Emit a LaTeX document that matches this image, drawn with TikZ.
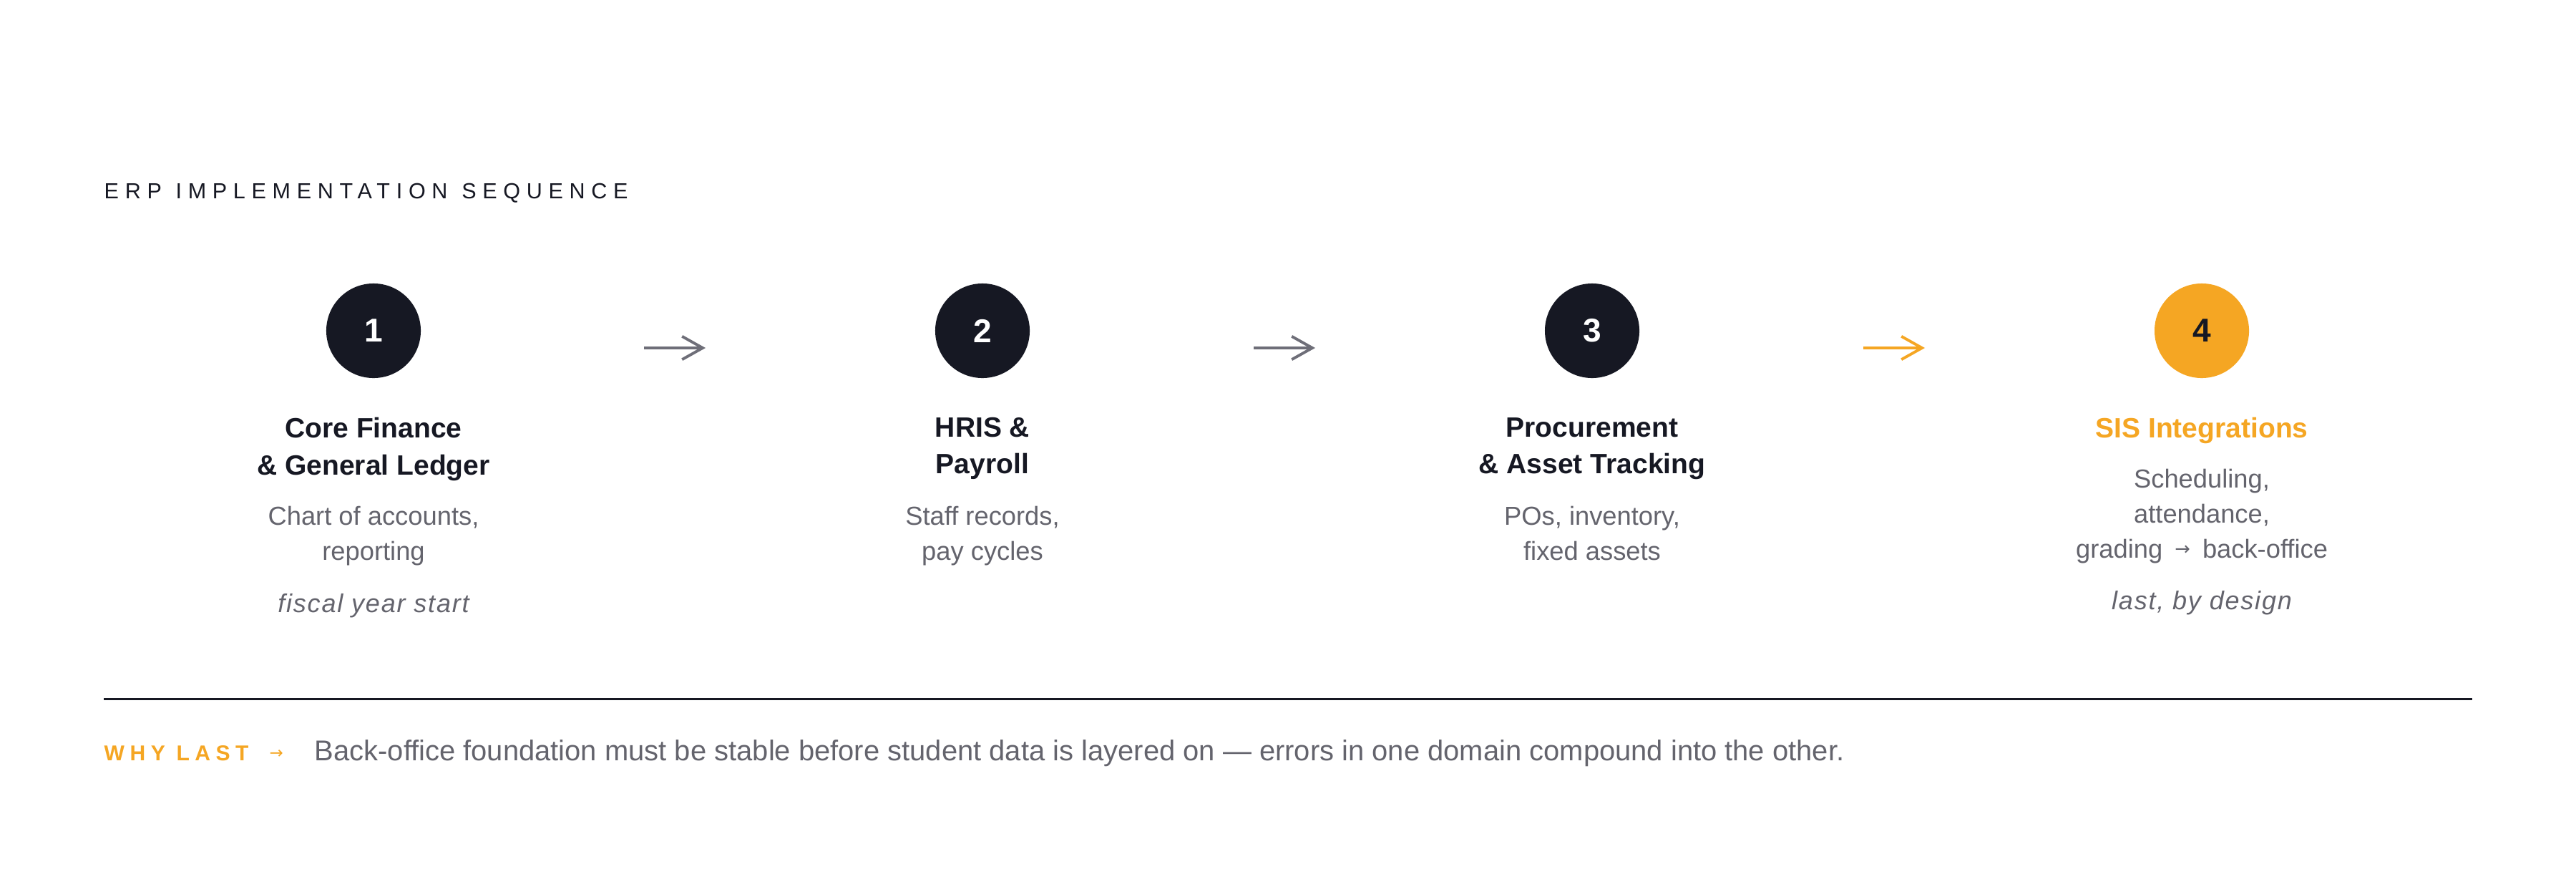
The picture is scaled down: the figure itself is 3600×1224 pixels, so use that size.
\documentclass[tikz,border=0pt]{standalone}
\usepackage{fontspec}
\setmainfont{Liberation Sans}
\newfontfamily\trackedfont[LetterSpace=28.5, WordSpace=1.15]{Liberation Sans}
\newfontfamily\labelfont[LetterSpace=25]{Liberation Sans}
\newfontfamily\notefont[LetterSpace=5]{Liberation Sans}
\newfontfamily\arrowfont{DejaVu Sans}
\usetikzlibrary{arrows.meta}
\definecolor{ink}{HTML}{161823}
\definecolor{accent}{HTML}{F5A623}
\definecolor{muted}{HTML}{64646D}
\definecolor{arrowgrey}{HTML}{6E6E78}
\newcommand{\smallarrow}{\hspace{2pt}{\arrowfont\fontsize{7.3}{9}\selectfont\raisebox{0.9pt}{→}}\hspace{2pt}}
\tikzset{>={Straight Barb[length=8.2pt,width=9.2pt]},
  stepnum/.style={circle, fill=ink, text=white, minimum size=1.32cm, inner sep=0pt,
    font=\fontsize{13.1}{15}\selectfont\bfseries},
  steptitle/.style={anchor=north, align=center, inner sep=0pt, text=ink,
    font=\fontsize{11.1}{14.51}\selectfont\bfseries},
  stepdesc/.style={anchor=north, align=center, inner sep=0pt, text=muted,
    font=\fontsize{10.33}{13.94}\selectfont},
  stepnote/.style={anchor=north, inner sep=0pt, text=muted,
    font=\notefont\fontsize{10.24}{12}\selectfont\itshape},
  flow/.style={->, line width=1.1pt}}

\begin{document}
\begin{tikzpicture}[x=0.01cm, y=-0.01cm]
\fill[white] (0,0) rectangle (3600,1224);
\useasboundingbox (0,0) rectangle (3600,1224);
\node[anchor=base west, inner sep=0pt, text=ink, font=\trackedfont\fontsize{8.68}{10}\selectfont] (heading) at (145,277) {ERP IMPLEMENTATION SEQUENCE};
% numbered steps
\node[stepnum] (n1) at (522,462) {1};
\node[stepnum] (n2) at (1373,462) {2};
\node[stepnum] (n3) at (2225,462) {3};
\node[stepnum, fill=accent, text=ink] (n4) at (3077,462) {4};
\node[steptitle] (t1) at (522,583) {Core Finance\\\& General Ledger};
\node[steptitle] (t2) at (1373,583) {HRIS \&\\Payroll};
\node[steptitle] (t3) at (2225,583) {Procurement\\\& Asset Tracking};
\node[steptitle, text=accent] (t4) at (3077,583) {SIS Integrations};
\node[stepdesc] (d1) at (522,706) {Chart of accounts,\\reporting};
\node[stepdesc] (d2) at (1373,706) {Staff records,\\pay cycles};
\node[stepdesc] (d3) at (2225,706) {POs, inventory,\\fixed assets};
\node[stepdesc] (d4) at (3077,654) {Scheduling,\\attendance,\\grading \smallarrow{} back-office};
\node[stepnote] (m1) at (522,829) {fiscal year start};
\node[stepnote] (m4) at (3077,825) {last, by design};
% arrows between steps
\foreach \i/\x/\c in {1/943/arrowgrey, 2/1795/arrowgrey, 3/2647/accent} {
  \coordinate (s\i) at ({\x-43},486);
  \coordinate (e\i) at ({\x+43},486);
  \draw[flow, \c] (s\i) -- (e\i);
}
% footer
\coordinate (rl) at (145,976);
\coordinate (rr) at (3455,976);
\draw[ink, line width=0.85pt] (rl) -- (rr);
\node[anchor=base west, inner sep=0pt, text=accent, font=\labelfont\bfseries\fontsize{8.54}{10}\selectfont] (why) at (145,1062) {WHY LAST};
\node[anchor=base west, inner sep=0pt, text=accent, font=\arrowfont\fontsize{6.5}{8}\selectfont] (whyarrow) at (376,1059) {→};
\node[anchor=base west, inner sep=0pt, text=muted, font=\fontsize{11.36}{12}\selectfont] (reason) at (439,1062) {Back-office foundation must be stable before student data is layered on — errors in one domain compound into the other.};
\end{tikzpicture}
\end{document}
